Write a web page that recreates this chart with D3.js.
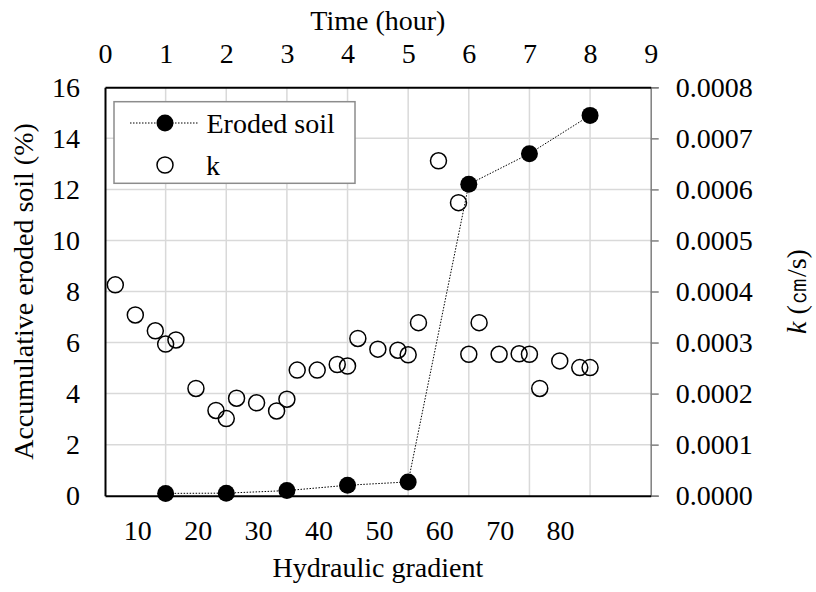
<!DOCTYPE html>
<html>
<head>
<meta charset="utf-8">
<script src="https://cdn.jsdelivr.net/npm/d3@7"></script>
</head>
<body style="margin:0">
<svg id="chart" width="816" height="592" font-family="Liberation Serif"></svg>
<script>
// ---- data ----
const timeTicks = [0, 1, 2, 3, 4, 5, 6, 7, 8, 9];
const gradientTicks = [10, 20, 30, 40, 50, 60, 70, 80];
const soilTicks = [0, 2, 4, 6, 8, 10, 12, 14, 16];
const kTicks = [0, 0.0001, 0.0002, 0.0003, 0.0004, 0.0005, 0.0006, 0.0007, 0.0008];

const erodedTime = [1, 2, 3, 4, 5, 6, 7, 8];
const erodedSoil = [0.09, 0.10, 0.20, 0.41, 0.54, 12.2, 13.4, 14.9];

const kTime = [0.17, 0.5, 0.83, 1, 1.17, 1.5, 1.83, 2, 2.17, 2.5, 2.83, 3, 3.17, 3.5, 3.83, 4,
               4.17, 4.5, 4.83, 5, 5.17, 5.5, 5.83, 6, 6.17, 6.5, 6.83, 7, 7.17, 7.5, 7.83, 8];
const kValues = [0.000413, 0.000354, 0.000323, 0.000297, 0.000305, 0.000210, 0.000167, 0.000151,
                 0.000191, 0.000182, 0.000166, 0.000189, 0.000246, 0.000246, 0.000257, 0.000254,
                 0.000308, 0.000287, 0.000285, 0.000276, 0.000339, 0.000656, 0.000574, 0.000277,
                 0.000339, 0.000277, 0.000278, 0.000277, 0.000210, 0.000264, 0.000251, 0.000251];

// ---- layout ----
const L = 105, R = 650.7, T = 87.3, B = 495.7;
const FS = 28;
const svg = d3.select("#chart");

const xTime = d3.scaleLinear().domain([0, 9]).range([L, R]);
const xGrad = d3.scaleLinear().domain([4.65, 95]).range([L, R]);
const ySoil = d3.scaleLinear().domain([0, 16]).range([B, T]);
const yK = d3.scaleLinear().domain([0, 0.0008]).range([B, T]);

function txt(sel) {
  return sel.style("font-family", "Liberation Serif").attr("font-family", "Liberation Serif")
    .attr("font-size", FS).attr("fill", "#000");
}

// gridlines
const grid = svg.append("g").attr("stroke", "#d9d9d9").attr("stroke-width", 1.5);
grid.selectAll("line.v").data(timeTicks.slice(1, -1)).join("line")
  .attr("x1", d => xTime(d)).attr("x2", d => xTime(d)).attr("y1", T).attr("y2", B);
grid.selectAll("line.h").data(soilTicks.slice(1, -1)).join("line")
  .attr("x1", L).attr("x2", R).attr("y1", d => ySoil(d)).attr("y2", d => ySoil(d));

function fixAxis(g) { g.attr("font-family", null).attr("font-size", null); }

// right axis (gray with outward ticks)
const rightAxis = svg.append("g").attr("transform", `translate(${R},0)`)
  .call(d3.axisRight(yK).tickValues(kTicks).tickFormat(d3.format(".4f")).tickSize(8).tickPadding(17))
  .call(fixAxis);
rightAxis.select(".domain").attr("stroke", "#7f7f7f").attr("stroke-width", 1.5);
rightAxis.selectAll(".tick line").attr("stroke", "#7f7f7f").attr("stroke-width", 1.5);
txt(rightAxis.selectAll("text"));

// left axis
const leftAxis = svg.append("g").attr("transform", `translate(${L},0)`)
  .call(d3.axisLeft(ySoil).tickValues(soilTicks).tickSize(0).tickPadding(25))
  .call(fixAxis);
leftAxis.select(".domain").attr("stroke", "#000").attr("stroke-width", 2);
txt(leftAxis.selectAll("text"));

// top axis (time)
const topAxis = svg.append("g").attr("transform", `translate(0,${T})`)
  .call(d3.axisTop(xTime).tickValues(timeTicks).tickSize(0).tickPadding(24))
  .call(fixAxis);
topAxis.select(".domain").attr("stroke", "#000").attr("stroke-width", 2);
txt(topAxis.selectAll("text"));

// bottom axis (hydraulic gradient)
const botAxis = svg.append("g").attr("transform", `translate(0,${B})`)
  .call(d3.axisBottom(xGrad).tickValues(gradientTicks).tickSize(0).tickPadding(24))
  .call(fixAxis);
botAxis.select(".domain").attr("stroke", "#000").attr("stroke-width", 2);
txt(botAxis.selectAll("text"));

// axis titles
txt(svg.append("text").attr("x", (L + R) / 2).attr("y", 30).attr("text-anchor", "middle")).text("Time (hour)");
txt(svg.append("text").attr("x", (L + R) / 2).attr("y", 577).attr("text-anchor", "middle")).text("Hydraulic gradient");
txt(svg.append("text").attr("transform", `translate(33,${(T + B) / 2}) rotate(-90)`).attr("text-anchor", "middle"))
  .text("Accumulative eroded soil (%)");
const kt = txt(svg.append("text").attr("transform", `translate(806,${(T + B) / 2}) rotate(-90)`).attr("text-anchor", "middle"));
kt.append("tspan").attr("font-style", "italic").text("k");
kt.append("tspan").text(" (㎝/s)");

// k series (open circles)
svg.append("g").selectAll("circle").data(kTime).join("circle")
  .attr("cx", d => xTime(d)).attr("cy", (d, i) => yK(kValues[i])).attr("r", 8)
  .attr("fill", "none").attr("stroke", "#000").attr("stroke-width", 1.5);

// eroded soil line + markers
const line = d3.line().x(d => xTime(d[0])).y(d => ySoil(d[1]));
svg.append("path").datum(erodedTime.map((t, i) => [t, erodedSoil[i]]))
  .attr("d", line).attr("fill", "none").attr("stroke", "#000").attr("stroke-width", 1)
  .attr("stroke-dasharray", "1.5,1.5");
svg.append("g").selectAll("circle").data(erodedTime).join("circle")
  .attr("cx", d => xTime(d)).attr("cy", (d, i) => ySoil(erodedSoil[i])).attr("r", 8.5)
  .attr("fill", "#000");

// legend
const lg = svg.append("g");
lg.append("rect").attr("x", 114).attr("y", 101.7).attr("width", 241).attr("height", 81.6)
  .attr("fill", "#fff").attr("stroke", "#8c8c8c").attr("stroke-width", 1.5);
lg.append("line").attr("x1", 130).attr("x2", 198).attr("y1", 123).attr("y2", 123)
  .attr("stroke", "#000").attr("stroke-width", 1).attr("stroke-dasharray", "1.5,1.5");
lg.append("circle").attr("cx", 165).attr("cy", 123).attr("r", 8.5).attr("fill", "#000");
txt(lg.append("text").attr("x", 206.5).attr("y", 123).attr("dy", "0.35em")).text("Eroded soil");
lg.append("circle").attr("cx", 165).attr("cy", 165).attr("r", 8).attr("fill", "none")
  .attr("stroke", "#000").attr("stroke-width", 1.5);
txt(lg.append("text").attr("x", 206).attr("y", 165).attr("dy", "0.35em")).text("k");
</script>
</body>
</html>
